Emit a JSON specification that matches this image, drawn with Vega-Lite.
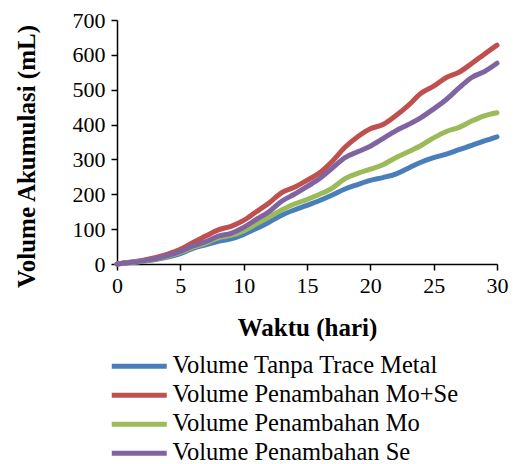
{
  "$schema": "https://vega.github.io/schema/vega-lite/v6.json",
  "width": 380,
  "height": 244,
  "autosize": {"type": "none"},
  "padding": {"left": 117, "top": 20, "right": 21, "bottom": 200},
  "background": "white",
  "config": {
    "view": {"stroke": null},
    "font": "Liberation Serif",
    "axis": {"grid": false, "labelFlush": false, "domainColor": "#000", "domainWidth": 1.5, "tickColor": "#000", "tickWidth": 1.5, "tickSize": 6, "labelColor": "#000", "labelFont": "Liberation Serif", "labelFontSize": 22, "titleFont": "Liberation Serif", "titleFontSize": 25, "titleFontWeight": "bold", "titleColor": "#000"}
  },
  "data": {"values": [
    {"hari":0,"s":"Volume Tanpa Trace Metal","v":0},
    {"hari":1,"s":"Volume Tanpa Trace Metal","v":4},
    {"hari":2,"s":"Volume Tanpa Trace Metal","v":8},
    {"hari":3,"s":"Volume Tanpa Trace Metal","v":13},
    {"hari":4,"s":"Volume Tanpa Trace Metal","v":20},
    {"hari":5,"s":"Volume Tanpa Trace Metal","v":30},
    {"hari":6,"s":"Volume Tanpa Trace Metal","v":45},
    {"hari":7,"s":"Volume Tanpa Trace Metal","v":55},
    {"hari":8,"s":"Volume Tanpa Trace Metal","v":65},
    {"hari":9,"s":"Volume Tanpa Trace Metal","v":72},
    {"hari":10,"s":"Volume Tanpa Trace Metal","v":85},
    {"hari":11,"s":"Volume Tanpa Trace Metal","v":102},
    {"hari":12,"s":"Volume Tanpa Trace Metal","v":120},
    {"hari":13,"s":"Volume Tanpa Trace Metal","v":140},
    {"hari":14,"s":"Volume Tanpa Trace Metal","v":155},
    {"hari":15,"s":"Volume Tanpa Trace Metal","v":168},
    {"hari":16,"s":"Volume Tanpa Trace Metal","v":182},
    {"hari":17,"s":"Volume Tanpa Trace Metal","v":198},
    {"hari":18,"s":"Volume Tanpa Trace Metal","v":215},
    {"hari":19,"s":"Volume Tanpa Trace Metal","v":228},
    {"hari":20,"s":"Volume Tanpa Trace Metal","v":240},
    {"hari":21,"s":"Volume Tanpa Trace Metal","v":248},
    {"hari":22,"s":"Volume Tanpa Trace Metal","v":258},
    {"hari":23,"s":"Volume Tanpa Trace Metal","v":275},
    {"hari":24,"s":"Volume Tanpa Trace Metal","v":292},
    {"hari":25,"s":"Volume Tanpa Trace Metal","v":305},
    {"hari":26,"s":"Volume Tanpa Trace Metal","v":315},
    {"hari":27,"s":"Volume Tanpa Trace Metal","v":328},
    {"hari":28,"s":"Volume Tanpa Trace Metal","v":340},
    {"hari":29,"s":"Volume Tanpa Trace Metal","v":353},
    {"hari":30,"s":"Volume Tanpa Trace Metal","v":365},
    {"hari":0,"s":"Volume Penambahan Mo+Se","v":0},
    {"hari":1,"s":"Volume Penambahan Mo+Se","v":5},
    {"hari":2,"s":"Volume Penambahan Mo+Se","v":10},
    {"hari":3,"s":"Volume Penambahan Mo+Se","v":18},
    {"hari":4,"s":"Volume Penambahan Mo+Se","v":28},
    {"hari":5,"s":"Volume Penambahan Mo+Se","v":42},
    {"hari":6,"s":"Volume Penambahan Mo+Se","v":62},
    {"hari":7,"s":"Volume Penambahan Mo+Se","v":80},
    {"hari":8,"s":"Volume Penambahan Mo+Se","v":98},
    {"hari":9,"s":"Volume Penambahan Mo+Se","v":108},
    {"hari":10,"s":"Volume Penambahan Mo+Se","v":125},
    {"hari":11,"s":"Volume Penambahan Mo+Se","v":150},
    {"hari":12,"s":"Volume Penambahan Mo+Se","v":175},
    {"hari":13,"s":"Volume Penambahan Mo+Se","v":205},
    {"hari":14,"s":"Volume Penambahan Mo+Se","v":220},
    {"hari":15,"s":"Volume Penambahan Mo+Se","v":240},
    {"hari":16,"s":"Volume Penambahan Mo+Se","v":262},
    {"hari":17,"s":"Volume Penambahan Mo+Se","v":295},
    {"hari":18,"s":"Volume Penambahan Mo+Se","v":335},
    {"hari":19,"s":"Volume Penambahan Mo+Se","v":365},
    {"hari":20,"s":"Volume Penambahan Mo+Se","v":388},
    {"hari":21,"s":"Volume Penambahan Mo+Se","v":400},
    {"hari":22,"s":"Volume Penambahan Mo+Se","v":425},
    {"hari":23,"s":"Volume Penambahan Mo+Se","v":455},
    {"hari":24,"s":"Volume Penambahan Mo+Se","v":490},
    {"hari":25,"s":"Volume Penambahan Mo+Se","v":510},
    {"hari":26,"s":"Volume Penambahan Mo+Se","v":535},
    {"hari":27,"s":"Volume Penambahan Mo+Se","v":550},
    {"hari":28,"s":"Volume Penambahan Mo+Se","v":575},
    {"hari":29,"s":"Volume Penambahan Mo+Se","v":602},
    {"hari":30,"s":"Volume Penambahan Mo+Se","v":628},
    {"hari":0,"s":"Volume Penambahan Mo","v":0},
    {"hari":1,"s":"Volume Penambahan Mo","v":4},
    {"hari":2,"s":"Volume Penambahan Mo","v":8},
    {"hari":3,"s":"Volume Penambahan Mo","v":14},
    {"hari":4,"s":"Volume Penambahan Mo","v":22},
    {"hari":5,"s":"Volume Penambahan Mo","v":33},
    {"hari":6,"s":"Volume Penambahan Mo","v":48},
    {"hari":7,"s":"Volume Penambahan Mo","v":60},
    {"hari":8,"s":"Volume Penambahan Mo","v":75},
    {"hari":9,"s":"Volume Penambahan Mo","v":82},
    {"hari":10,"s":"Volume Penambahan Mo","v":95},
    {"hari":11,"s":"Volume Penambahan Mo","v":115},
    {"hari":12,"s":"Volume Penambahan Mo","v":135},
    {"hari":13,"s":"Volume Penambahan Mo","v":155},
    {"hari":14,"s":"Volume Penambahan Mo","v":172},
    {"hari":15,"s":"Volume Penambahan Mo","v":185},
    {"hari":16,"s":"Volume Penambahan Mo","v":200},
    {"hari":17,"s":"Volume Penambahan Mo","v":218},
    {"hari":18,"s":"Volume Penambahan Mo","v":245},
    {"hari":19,"s":"Volume Penambahan Mo","v":260},
    {"hari":20,"s":"Volume Penambahan Mo","v":272},
    {"hari":21,"s":"Volume Penambahan Mo","v":285},
    {"hari":22,"s":"Volume Penambahan Mo","v":305},
    {"hari":23,"s":"Volume Penambahan Mo","v":322},
    {"hari":24,"s":"Volume Penambahan Mo","v":340},
    {"hari":25,"s":"Volume Penambahan Mo","v":362},
    {"hari":26,"s":"Volume Penambahan Mo","v":380},
    {"hari":27,"s":"Volume Penambahan Mo","v":392},
    {"hari":28,"s":"Volume Penambahan Mo","v":410},
    {"hari":29,"s":"Volume Penambahan Mo","v":425},
    {"hari":30,"s":"Volume Penambahan Mo","v":434},
    {"hari":0,"s":"Volume Penambahan Se","v":0},
    {"hari":1,"s":"Volume Penambahan Se","v":4},
    {"hari":2,"s":"Volume Penambahan Se","v":9},
    {"hari":3,"s":"Volume Penambahan Se","v":15},
    {"hari":4,"s":"Volume Penambahan Se","v":24},
    {"hari":5,"s":"Volume Penambahan Se","v":36},
    {"hari":6,"s":"Volume Penambahan Se","v":52},
    {"hari":7,"s":"Volume Penambahan Se","v":64},
    {"hari":8,"s":"Volume Penambahan Se","v":80},
    {"hari":9,"s":"Volume Penambahan Se","v":88},
    {"hari":10,"s":"Volume Penambahan Se","v":105},
    {"hari":11,"s":"Volume Penambahan Se","v":128},
    {"hari":12,"s":"Volume Penambahan Se","v":150},
    {"hari":13,"s":"Volume Penambahan Se","v":180},
    {"hari":14,"s":"Volume Penambahan Se","v":200},
    {"hari":15,"s":"Volume Penambahan Se","v":222},
    {"hari":16,"s":"Volume Penambahan Se","v":245},
    {"hari":17,"s":"Volume Penambahan Se","v":275},
    {"hari":18,"s":"Volume Penambahan Se","v":305},
    {"hari":19,"s":"Volume Penambahan Se","v":322},
    {"hari":20,"s":"Volume Penambahan Se","v":338},
    {"hari":21,"s":"Volume Penambahan Se","v":360},
    {"hari":22,"s":"Volume Penambahan Se","v":382},
    {"hari":23,"s":"Volume Penambahan Se","v":400},
    {"hari":24,"s":"Volume Penambahan Se","v":420},
    {"hari":25,"s":"Volume Penambahan Se","v":445},
    {"hari":26,"s":"Volume Penambahan Se","v":472},
    {"hari":27,"s":"Volume Penambahan Se","v":505},
    {"hari":28,"s":"Volume Penambahan Se","v":535},
    {"hari":29,"s":"Volume Penambahan Se","v":552},
    {"hari":30,"s":"Volume Penambahan Se","v":576}
  ]},
  "mark": {"type": "line", "strokeWidth": 5, "interpolate": "monotone", "strokeCap": "round", "strokeJoin": "round"},
  "encoding": {
    "x": {"field": "hari", "type": "quantitative", "scale": {"domain": [0, 30], "nice": false},
      "axis": {"title": "Waktu (hari)", "values": [0,5,10,15,20,25,30], "labelPadding": 5, "titlePadding": 19}},
    "y": {"field": "v", "type": "quantitative", "scale": {"domain": [0, 700], "nice": false},
      "axis": {"title": "Volume Akumulasi (mL)", "values": [0,100,200,300,400,500,600,700], "labelPadding": 6, "titlePadding": 33, "titleY": 136}},
    "color": {"field": "s", "type": "nominal",
      "sort": ["Volume Tanpa Trace Metal","Volume Penambahan Mo+Se","Volume Penambahan Mo","Volume Penambahan Se"],
      "scale": {"domain": ["Volume Tanpa Trace Metal","Volume Penambahan Mo+Se","Volume Penambahan Mo","Volume Penambahan Se"],
                "range": ["#4A7EBB","#C0504D","#9BBB59","#8064A2"]},
      "legend": {"title": null, "orient": "none", "legendX": 10, "legendY": 334, "padding": 0,
        "symbolType": "M-5,0L5,0", "symbolSize": 121, "symbolStrokeWidth": 5,
        "labelFont": "Liberation Serif", "labelFontSize": 24.5, "labelColor": "#000", "labelOffset": 21, "rowPadding": 4, "labelLimit": 400}}
  }
}
